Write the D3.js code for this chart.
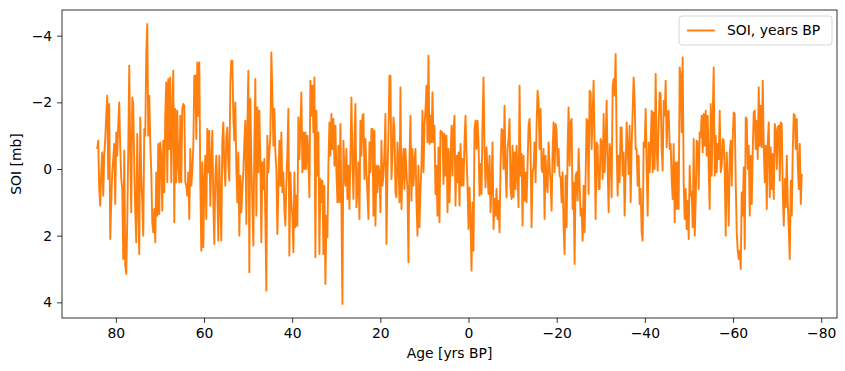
<!DOCTYPE html>
<html>
<head>
<meta charset="utf-8">
<script src="https://cdn.jsdelivr.net/npm/d3@7"></script>
<style>
body { margin: 0; background: #fff; }
svg { font-family: "DejaVu Sans", sans-serif; }
</style>
</head>
<body>
<div id="chart"></div>
<script>
var width = 845;
var height = 371;
var plotLeft = 62;
var plotRight = 837;
var plotTop = 10;
var plotBottom = 318;
var svgElement;

// first sample age and spacing (years BP)
var ageStart = 84.22;
var ageStep = 0.227;

// SOI values, oldest first
var soiPart1 = [-0.6,-0.85,0.6,1.1,0.1,-0.5,0.8,-0.4,-0.9,-1.6, -2.2,0.3,-1.95,2.1,1.0,0.1,-0.3,-0.75,1.05,-1.1, -0.4,-1.3,-2.0,-0.6,0.3,0.6,2.7,-0.55,2.9,3.15, 1.6,-0.6,-3.1,-0.4,1.3,-2.15,-1.95,-0.1,1.3,2.2, -1.05,1.0,2.55,-1.55,0.2,1.0,2.0,-1.2,-1.0,-3.4, -4.35,-1.0,-2.2,-0.8,0.1,1.6,1.9,1.2,2.2,0.1, 1.4,-0.75,1.35,-0.8,-0.4];
var soiPart2 = [1.25,-0.85,0.7,-1.6,-2.6,0.4,-2.7,-0.6,-2.75,0.4, -1.6,-2.95,1.6,-1.8,0.4,-1.75,-0.1,0.4,-1.6,0.4, -1.8,-1.95,-1.9,0.4,0.5,0.8,0.1,1.5,-0.6,0.5, 0.1,-0.65,-2.8,-2.8,-0.9,-3.2,-1.6,-3.2,0.4,2.45, -0.2,2.35,0.4,-0.4,1.5,-1.2,0.1,-1.15,1.1,-0.2, -1.15,1.0,2.25,0.2,-0.4,0.7,2.15,-0.4,1.0,2.15, -0.85,-1.4,-0.1,0.5,-0.95,-1.25,-0.1,0.35,-2.6,-3.25];
var soiPart3 = [-3.25,-1.6,-0.85,-2.0,0.0,1.0,-0.5,2.0,0.2,1.3, 0.6,0.1,-0.8,-1.45,1.65,-1.2,-2.95,3.1,-2.1,-0.2, 1.0,2.3,-0.7,-2.7,1.4,-1.85,0.1,-1.75,-0.3,2.2, -0.2,0.6,-0.3,1.5,3.65,-1.0,0.1,-0.5,-1.0,-3.5, -2.25,-0.7,-1.8,-0.5,0.0,1.95,0.6,-0.85,0.5,-1.1, 0.7,0.1,1.2,1.7,0.4,-0.5,-1.8,2.6,0.1,1.0, 1.4,2.5,0.1,1.75,0.8,1.7,-1.55,-0.3,-1.25,-2.3];
var soiPart4 = [0.1,-1.1,0.0,-1.1,0.0,-1.0,-0.4,0.85,-2.65,-1.6, -2.5,-1.1,-2.75,2.65,-1.75,0.2,-1.1,2.55,0.3,1.0, 0.35,2.55,0.5,3.45,1.4,2.05,-0.1,-1.4,-0.4,-1.65, -0.6,-1.5,-0.1,-1.3,0.1,1.0,-0.7,1.0,-1.35,1.1, 4.05,-0.85,0.1,0.5,-0.6,0.9,-0.1,1.2,-0.4,-2.15, -0.3,0.9,-0.8,-1.95,1.15,0.55,-0.2,1.5,-1.45,-0.4, -1.6,-1.65,0.3,-0.9,0.1,0.75,1.5,-0.8,0.1,-1.2];
var soiPart5 = [-1.2,1.4,-1.15,1.7,-0.1,0.7,-0.1,0.1,1.3,-0.85, 0.5,0.2,-0.5,-1.65,2.25,0.15,-1.0,-2.8,-2.8,0.3, -0.4,-1.55,-1.2,0.7,0.85,-0.8,-0.2,1.0,-2.45,1.2, -0.1,-0.6,0.6,-0.6,0.1,0.6,2.8,-0.3,-1.6,0.95, -0.6,0.5,-0.2,-0.6,1.0,2.0,-0.1,1.75,0.6,-0.1, -1.75,0.1,-1.3,-1.75,-2.5,-0.8,-3.4,-0.75,-1.6,-0.8, -2.3,-0.8,-1.3,0.75,-0.1,1.4,-0.65,1.6,-1.15,-1.1];
var soiPart6 = [-1.1,0.45,-1.05,0.2,-1.0,1.3,-0.6,1.0,-0.2,-1.3, 0.2,-1.2,-1.6,1.1,-0.4,0.4,-0.5,1.1,-0.75,0.5, -0.3,0.5,-0.85,-1.6,-0.4,0.5,1.8,0.55,1.5,3.05, 1.0,2.45,-1.2,-1.45,-0.6,-1.45,-0.8,0.8,-0.15,0.75, -1.4,-2.75,-0.6,0.55,-0.65,0.1,0.75,-0.4,1.3,0.4, -0.8,1.8,0.9,1.4,0.6,1.5,0.95,1.9,-0.1,-1.2, -1.15,0.0,-1.9,0.0,0.85,-0.6,-0.9,-1.5,0.6,0.9];
var soiPart7 = [-0.7,0.85,-0.5,0.6,-0.7,0.2,1.15,-2.5,0.2,-0.45, 1.7,-0.4,0.95,0.1,1.0,-0.1,-1.3,-1.5,-0.6,1.75, 0.1,-0.05,-0.8,0.4,-1.3,-2.35,-2.0,-0.6,-1.8,0.0, 0.1,-0.6,1.5,-0.4,0.4,0.7,-0.8,-0.1,0.4,1.25, -0.5,-1.4,0.1,-1.35,-1.15,-0.1,-0.6,0.2,0.25,1.0, 0.1,1.75,2.55,0.2,1.75,-0.55,-1.85,-0.1,-1.4,-1.5, 1.2,0.4,2.85,0.2,0.1,0.95,-0.6,0.4,1.4,1.2];
var soiPart8 = [2.15,0.5,1.9,0.3,-1.5,-1.45,0.75,-2.35,-2.3,-0.6, -1.6,-2.65,-0.6,1.5,-0.8,-0.7,0.6,0.6,-0.9,-0.8, 0.3,-1.65,0.1,-0.8,-2.05,-0.1,1.3,-0.75,-0.55,0.85, -2.45,-2.7,-2.2,-3.45,-0.8,0.8,-0.4,0.4,-1.25,-1.25, 0.2,-0.5,1.4,0.1,-1.4,-0.6,0.15,-1.3,1.0,-0.7, -1.7,-2.75,-2.05,-0.6,-0.6,0.5,-0.4,1.05,0.6,1.9, 2.15,-0.8,-0.65,-1.8,-0.1,1.4,-0.8,0.1,-0.75,-1.75];
var soiPart9 = [0.1,-1.7,0.0,-2.85,-0.6,0.05,-1.35,-2.3,-2.25,-0.6, 0.05,-2.05,-1.6,-2.65,-0.65,-1.7,-1.75,-0.6,-0.75,0.3, 0.9,-0.75,1.6,-0.2,1.2,-0.2,1.2,-3.05,-2.8,-1.1, -3.35,0.4,1.5,0.6,1.8,0.95,2.1,-0.1,0.8,0.7, 1.75,-0.9,2.0,1.0,-0.85,-0.8,0.6,-1.1,-0.95,-1.6, -0.5,-1.65,-0.7,-1.75,-0.4,-1.6,0.0,1.2,-1.95,0.2, -1.6,-3.05,0.2,-1.0,0.1,-0.75,-0.3,-1.75,0.1,-0.1];
var soiPart10 = [-0.9,-0.85,0.1,2.0,-0.5,0.4,1.7,-0.5,-0.85,0.5, -0.9,-1.7,-1.65,0.4,1.9,2.45,2.7,2.45,3.0,0.7, 1.4,-0.05,2.4,-1.55,-1.5,0.0,-0.7,1.4,-0.4,1.05, -0.55,-1.7,-1.75,-0.6,-1.45,-0.3,-2.45,-0.7,-1.9,-0.65, -2.65,-0.7,0.4,-0.7,1.2,-0.75,-1.4,0.85,-0.65,0.6, -0.45,0.9,-1.35,-1.15,0.0,-1.25,-1.3,0.35,-1.4,-1.35, 0.7,1.7,0.3,1.15,-0.4,1.0,1.8,2.7,0.35,1.4, -0.55,-1.65,-1.6,-0.6,-1.5,-0.1,0.6,-0.75,1.05,0.15];

var xTicks = [80, 60, 40, 20, 0, -20, -40, -60, -80];
var yTicks = [-4, -2, 0, 2, 4];
var seriesName = "SOI, years BP";
var xLabel = "Age [yrs BP]";
var yLabel = "SOI [mb]";
var lineColor = "#ff7f0e";

function main() {
    var soi = [].concat(soiPart1, soiPart2, soiPart3, soiPart4, soiPart5,
        soiPart6, soiPart7, soiPart8, soiPart9, soiPart10);
    var data = soi.map(function (v, i) {
        return {age: ageStart - i * ageStep, soi: v};
    });

    svgElement = d3.select('#chart').append('svg')
        .attr('width', width)
        .attr('height', height);

    // matplotlib style 5% margins, both axes inverted
    var ageExt = d3.extent(data, function (d) { return d.age; });
    var soiExt = d3.extent(data, function (d) { return d.soi; });
    var xPad = (ageExt[1] - ageExt[0]) * 0.05;
    var yPad = (soiExt[1] - soiExt[0]) * 0.05;

    var x = d3.scaleLinear()
        .domain([ageExt[1] + xPad, ageExt[0] - xPad])
        .range([plotLeft, plotRight]);
    var y = d3.scaleLinear()
        .domain([soiExt[0] - yPad, soiExt[1] + yPad])
        .range([plotTop, plotBottom]);

    var fmt = function (d) { return d < 0 ? "\u2212" + Math.abs(d) : String(d); };

    svgElement.append('defs').append('clipPath').attr('id', 'clip')
        .append('rect')
        .attr('x', plotLeft).attr('y', plotTop)
        .attr('width', plotRight - plotLeft).attr('height', plotBottom - plotTop);

    var line = d3.line()
        .x(function (d) { return x(d.age); })
        .y(function (d) { return y(d.soi); });

    svgElement.append('path')
        .datum(data)
        .attr('d', line)
        .attr('clip-path', 'url(#clip)')
        .attr('fill', 'none')
        .attr('stroke', lineColor)
        .attr('stroke-width', 1.9)
        .attr('stroke-linejoin', 'round');

    var xAxis = d3.axisBottom(x).tickValues(xTicks).tickFormat(fmt)
        .tickSizeInner(4.9).tickSizeOuter(0).tickPadding(4.9);
    var yAxis = d3.axisLeft(y).tickValues(yTicks).tickFormat(fmt)
        .tickSizeInner(4.9).tickSizeOuter(0).tickPadding(4.9);

    var gx = svgElement.append('g')
        .attr('transform', 'translate(0,' + plotBottom + ')')
        .call(xAxis);
    var gy = svgElement.append('g')
        .attr('transform', 'translate(' + plotLeft + ',0)')
        .call(yAxis);
    [gx, gy].forEach(function (g) {
        g.select('.domain').remove();
        g.selectAll('.tick line').attr('stroke', '#000').attr('stroke-width', 0.8);
        g.selectAll('.tick text').attr('font-size', 13.9).attr('fill', '#000')
            .attr('font-family', '"DejaVu Sans", sans-serif');
    });

    // frame
    svgElement.append('rect')
        .attr('x', plotLeft).attr('y', plotTop)
        .attr('width', plotRight - plotLeft).attr('height', plotBottom - plotTop)
        .attr('fill', 'none').attr('stroke', '#000').attr('stroke-width', 0.8);

    svgElement.append('text')
        .attr('x', (plotLeft + plotRight) / 2).attr('y', 358)
        .attr('text-anchor', 'middle').attr('font-size', 13.9)
        .text(xLabel);
    svgElement.append('text')
        .attr('transform', 'translate(21,' + (plotTop + plotBottom) / 2 + ') rotate(-90)')
        .attr('text-anchor', 'middle').attr('font-size', 13.9)
        .text(yLabel);

    // legend
    var lg = svgElement.append('g');
    lg.append('rect')
        .attr('x', 679).attr('y', 16).attr('width', 153).attr('height', 29)
        .attr('rx', 3).attr('fill', '#fff').attr('fill-opacity', 0.8)
        .attr('stroke', '#cccccc').attr('stroke-width', 0.8);
    lg.append('line')
        .attr('x1', 687).attr('x2', 715).attr('y1', 30.5).attr('y2', 30.5)
        .attr('stroke', lineColor).attr('stroke-width', 1.9);
    lg.append('text')
        .attr('x', 727).attr('y', 30.5).attr('dy', '0.35em')
        .attr('font-size', 13.9)
        .text(seriesName);
}

main();
</script>
</body>
</html>
